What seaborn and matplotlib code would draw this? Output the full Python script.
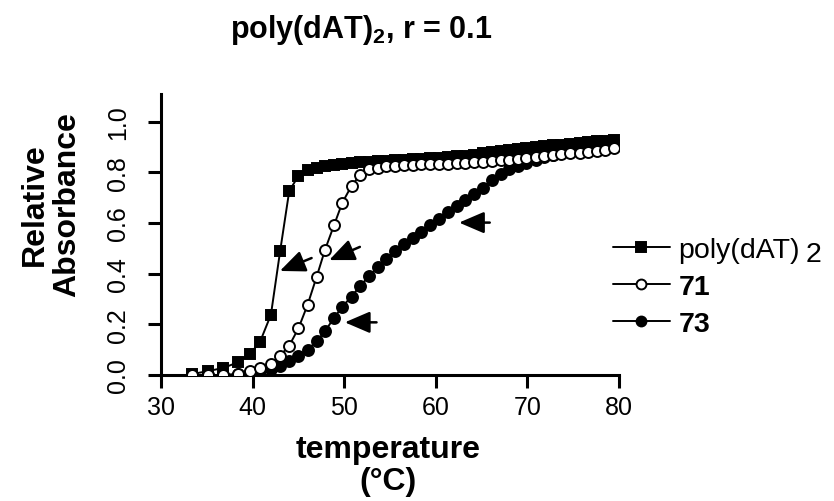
import matplotlib
matplotlib.use("Agg")
import matplotlib.pyplot as plt
import seaborn as sns
import pandas as pd

sns.set_style("ticks")
plt.rcParams["font.family"] = ["Liberation Sans", "DejaVu Sans"]
plt.rcParams["mathtext.fontset"] = "custom"
plt.rcParams["mathtext.rm"] = "Liberation Sans"
plt.rcParams["mathtext.bf"] = "Liberation Sans:bold"
plt.rcParams["text.color"] = "black"
plt.rcParams["axes.labelcolor"] = "black"
plt.rcParams["xtick.color"] = "black"
plt.rcParams["ytick.color"] = "black"

# Melting temperatures (deg C) shared by all three scans
temperature = [33.4, 35.1, 36.8, 38.4, 39.7, 40.8, 42.0, 43.0, 44.0, 45.0,
               46.0, 47.0, 47.9, 48.9, 49.8, 50.8, 51.7, 52.7, 53.7, 54.6,
               55.6, 56.5, 57.5, 58.4, 59.4, 60.4, 61.3, 62.3, 63.2, 64.2,
               65.1, 66.1, 67.1, 68.0, 69.0, 69.9, 70.9, 71.8, 72.8, 73.7,
               74.7, 75.7, 76.6, 77.6, 78.5, 79.5]

# Relative absorbance of the free duplex
abs_polydat = [0.004, 0.015, 0.028, 0.050, 0.083, 0.130, 0.238, 0.488, 0.727, 0.786,
               0.809, 0.819, 0.826, 0.830, 0.834, 0.837, 0.840, 0.842, 0.844, 0.846,
               0.848, 0.850, 0.852, 0.854, 0.856, 0.858, 0.861, 0.864, 0.867, 0.871,
               0.875, 0.879, 0.883, 0.887, 0.891, 0.895, 0.899, 0.903, 0.907, 0.910,
               0.914, 0.917, 0.920, 0.923, 0.926, 0.929]

# Relative absorbance with ligand 71
abs_71 = [0.000, 0.000, 0.000, 0.004, 0.017, 0.026, 0.044, 0.076, 0.116, 0.184,
          0.277, 0.389, 0.494, 0.593, 0.681, 0.747, 0.789, 0.813, 0.819, 0.824,
          0.827, 0.829, 0.831, 0.832, 0.833, 0.834, 0.835, 0.836, 0.838, 0.841,
          0.843, 0.845, 0.848, 0.851, 0.855, 0.859, 0.862, 0.866, 0.869, 0.872,
          0.875, 0.878, 0.881, 0.885, 0.890, 0.898]

# Relative absorbance with ligand 73
abs_73 = [0.000, 0.000, 0.000, 0.002, 0.010, 0.016, 0.024, 0.037, 0.056, 0.076,
          0.100, 0.133, 0.173, 0.226, 0.270, 0.310, 0.350, 0.390, 0.427, 0.458,
          0.489, 0.519, 0.542, 0.566, 0.592, 0.617, 0.643, 0.668, 0.693, 0.714,
          0.740, 0.770, 0.793, 0.813, 0.826, 0.838, 0.850, 0.860, 0.869, 0.877,
          0.885, 0.892, 0.899, 0.905, 0.911, 0.916]

series_names = ["poly(dAT)", "71", "73"]

df = pd.DataFrame({
    "temperature": temperature * 3,
    "absorbance": abs_polydat + abs_71 + abs_73,
    "series": [series_names[0]] * len(temperature)
              + [series_names[1]] * len(temperature)
              + [series_names[2]] * len(temperature),
})

fig = plt.figure(figsize=(8.34, 5.02), dpi=100)
ax = fig.add_axes([161 / 834, 1 - 376 / 502, (619 - 161) / 834, (376 - 95) / 502])

styles = {
    "poly(dAT)": dict(marker="s", markerfacecolor="black", markersize=7.6, zorder=3),
    "73": dict(marker="o", markerfacecolor="black", markersize=7.9, zorder=4),
    "71": dict(marker="o", markerfacecolor="white", markersize=7.9, zorder=5),
}
handles = {}
for name in ["poly(dAT)", "73", "71"]:
    sub = df[df["series"] == name]
    sns.lineplot(data=sub, x="temperature", y="absorbance", ax=ax, sort=False,
                 estimator=None, color="black", linewidth=1.4,
                 markeredgecolor="black", markeredgewidth=1.4, **styles[name])
    handles[name] = ax.lines[-1]

ax.set_xlim(30, 80)
ax.set_ylim(0, 1.11)
ax.set_xticks([30, 40, 50, 60, 70, 80])
ax.set_yticks([0.0, 0.2, 0.4, 0.6, 0.8, 1.0])
ax.set_yticklabels(["0.0", "0.2", "0.4", "0.6", "0.8", "1.0"], rotation=90, va="center")
ax.tick_params(axis="both", direction="out", length=9.5, width=2.2, labelsize=18,
               color="black", labelcolor="black")
ax.tick_params(axis="x", pad=5)
ax.tick_params(axis="y", pad=13)
for side in ["left", "bottom"]:
    ax.spines[side].set_linewidth(2.2)
    ax.spines[side].set_color("black")
sns.despine(ax=ax)
ax.spines["left"].set_bounds(0, 1.11)
ax.set_xlabel("")
ax.set_ylabel("")

# Arrows marking the transition midpoints
arrows = [((46.44, 0.462), (42.98, 0.411)),
          ((51.71, 0.506), (48.36, 0.454)),
          ((65.89, 0.602), (62.54, 0.602)),
          ((53.53, 0.208), (50.07, 0.208))]
for tail, head in arrows:
    ax.annotate("", xy=head, xytext=tail,
                arrowprops=dict(arrowstyle="-|>,head_length=0.7,head_width=0.3",
                                lw=1.8, color="black", shrinkA=0, shrinkB=0,
                                mutation_scale=22))

# Legend
leg_labels = ["poly(dAT)", "71", "73"]
leg = ax.legend([handles[n] for n in leg_labels], leg_labels, loc="center left",
                bbox_to_anchor=(613 / 834, 1 - 288 / 502), bbox_transform=fig.transFigure,
                frameon=False, fontsize=20.5, handlelength=2.0, handletextpad=0.3,
                labelspacing=0.38, borderaxespad=0, borderpad=0, markerscale=0.9)
for txt in leg.get_texts()[1:]:
    txt.set_fontweight("bold")
fig.canvas.draw()
first = leg.get_texts()[0]
bb = first.get_window_extent()
fig.text(bb.x1 + 6, 502 - 262, "2", fontsize=20.5, transform=None, va="baseline")

fig.text(361 / 834, 1 - 30 / 502, r"poly(dAT)$_\mathbf{2}$, r = 0.1", fontsize=22,
         fontweight="bold", ha="center", va="center")
fig.text(388 / 834, 1 - 466 / 502, "temperature\n(°C)", fontsize=23, fontweight="bold",
         ha="center", va="center", linespacing=1.1)
fig.text(51 / 834, 1 - 205 / 502, "Relative\nAbsorbance", fontsize=23, fontweight="bold",
         ha="center", va="center", rotation=90, linespacing=1.08)

fig.savefig("out.png", dpi=100)
